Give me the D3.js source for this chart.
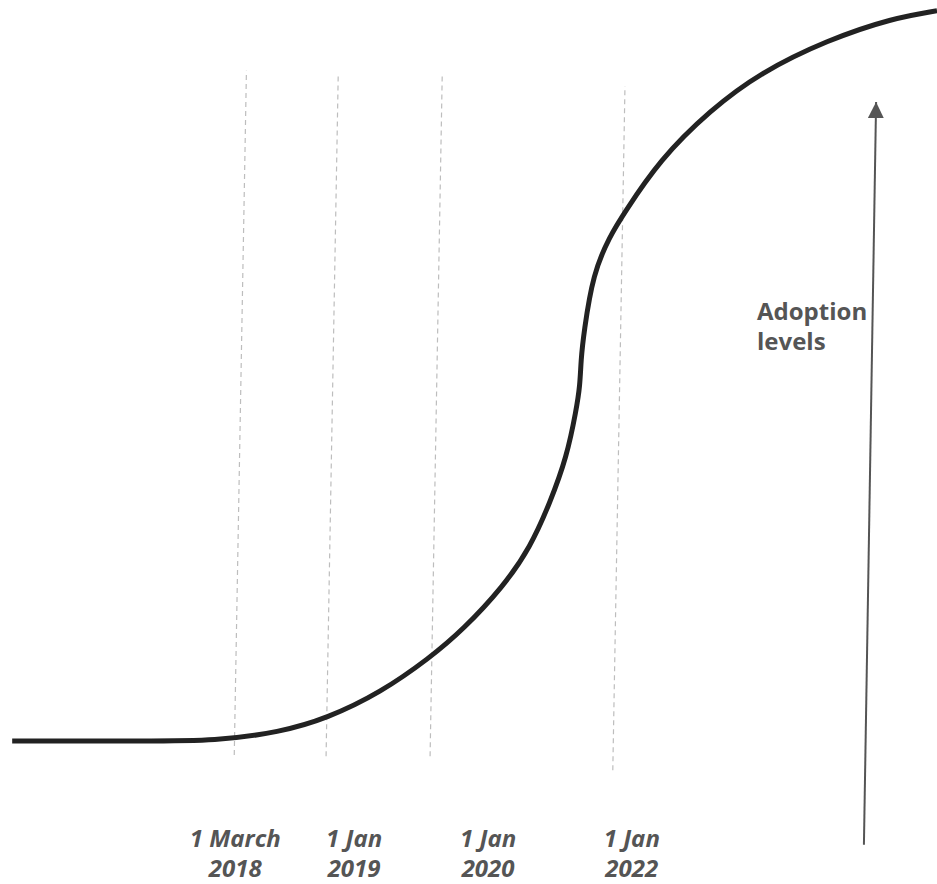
<!DOCTYPE html>
<html>
<head>
<meta charset="utf-8">
<script src="https://cdn.jsdelivr.net/npm/d3@7"></script>
<style>
  html, body { margin: 0; padding: 0; background: #fff; }
  svg { display: block; }
</style>
</head>
<body>
<svg id="chart" width="937" height="884"></svg>
<script>
// ---- data (time index 0-100, adoption level 0-100) ----
const curveTime     = [1.3, 16.0, 22.9, 29.9, 34.9, 40.6, 45.9, 49.4, 53.7, 56.6, 58.7, 60.5, 61.5, 61.9, 62.0, 62.3, 63.3, 65.1, 66.5, 70.4, 75.8, 81.1, 88.3, 95.3, 100];
const curveAdoption = [0,   0,    0,    1.2,  3.1,  6.6,  11.4, 15.2, 21.1, 26.5, 32.6, 38.9, 45.3, 48.6, 52.1, 55.8, 64.0, 69.1, 72.0, 79.5, 86.3, 91.4, 95.9, 98.9, 99.9];

const markerLabels   = [["1 March", "2018"], ["1 Jan", "2019"], ["1 Jan", "2020"], ["1 Jan", "2022"]];
const markerTimeLow  = [25.0, 34.8, 45.9, 65.4];
const markerTimeHigh = [26.3, 36.1, 47.2, 66.7];
const markerLevelLow  = [-1.9, -2.1, -2.1, -4.0];
const markerLevelHigh = [91.7, 91.4, 91.4, 89.6];

const axisLabel = ["Adoption", "levels"];
const arrowTime  = [92.2, 93.5];
const arrowLevel = [-14.2, 87.4];

// ---- layout ----
const x = d3.scaleLinear().domain([0, 100]).range([0, 937]);
const y = d3.scaleLinear().domain([0, 100]).range([741, 10]);

const labelDx = [1, 28, 58, 19];   // horizontal offsets of date labels from line foot
const labelY  = [847, 847, 847, 847];
const labelGap = 30;

const svg = d3.select("#chart");

// dashed guide lines
svg.append("g").selectAll("line")
  .data(markerLabels.map((d, i) => i))
  .join("line")
  .attr("x1", i => x(markerTimeLow[i]))
  .attr("y1", i => y(markerLevelLow[i]))
  .attr("x2", i => x(markerTimeHigh[i]))
  .attr("y2", i => y(markerLevelHigh[i]))
  .attr("stroke", "#bdbdbd")
  .attr("stroke-width", 1.2)
  .attr("stroke-dasharray", "5,4");

// adoption curve
const pts = curveTime.map((t, i) => [t, curveAdoption[i]]);
const line = d3.line().x(d => x(d[0])).y(d => y(d[1])).curve(d3.curveBasis);
svg.append("path")
  .datum(pts)
  .attr("d", line)
  .attr("fill", "none")
  .attr("stroke", "#222")
  .attr("stroke-width", 5)
  .attr("stroke-linecap", "butt");

// date labels
const lg = svg.append("g")
  .attr("font-family", "'Open Sans', sans-serif")
  .attr("font-style", "italic")
  .attr("font-weight", 700)
  .attr("font-size", 24)
  .attr("fill", "#555")
  .attr("text-anchor", "middle");
markerLabels.forEach((lines, i) => {
  const t = lg.append("text")
    .attr("x", x(markerTimeLow[i]) + labelDx[i])
    .attr("y", labelY[i]);
  lines.forEach((s, j) => {
    t.append("tspan")
      .attr("x", x(markerTimeLow[i]) + labelDx[i])
      .attr("dy", j === 0 ? 0 : labelGap)
      .text(s);
  });
});

// arrow
const defs = svg.append("defs");
defs.append("marker")
  .attr("id", "head")
  .attr("markerUnits", "userSpaceOnUse")
  .attr("viewBox", "0 0 16 16")
  .attr("refX", 16).attr("refY", 8)
  .attr("markerWidth", 16).attr("markerHeight", 16)
  .attr("orient", "auto")
  .append("path")
  .attr("d", "M0,0 L16,8 L0,16 Z")
  .attr("fill", "#555");

svg.append("line")
  .attr("x1", x(arrowTime[0])).attr("y1", y(arrowLevel[0]))
  .attr("x2", x(arrowTime[1])).attr("y2", y(arrowLevel[1]))
  .attr("stroke", "#555")
  .attr("stroke-width", 2)
  .attr("marker-end", "url(#head)");

// axis label
const al = svg.append("text")
  .attr("font-family", "'Open Sans', sans-serif")
  .attr("font-weight", 700)
  .attr("font-size", 24)
  .attr("fill", "#555")
  .attr("x", 757).attr("y", 320);
axisLabel.forEach((s, j) => {
  al.append("tspan").attr("x", 757).attr("dy", j === 0 ? 0 : 30).text(s);
});
</script>
</body>
</html>
